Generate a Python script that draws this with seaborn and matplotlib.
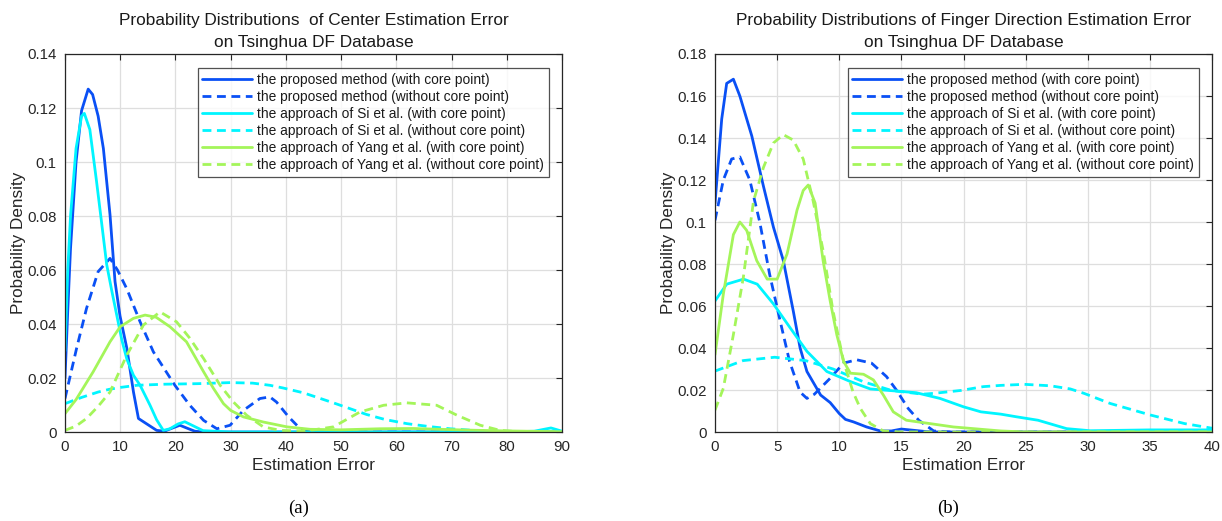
import matplotlib
matplotlib.use("Agg")
import matplotlib.pyplot as plt
import seaborn as sns
import pandas as pd
from matplotlib.ticker import FuncFormatter, MultipleLocator

# ---------------- data: panel (a) center estimation error ----------------
a_prop_core_x = [0, 0.5, 1, 2, 3, 4.2, 5, 6, 6.95, 8.15, 9.06, 9.96, 11.2, 12.4, 13.3, 14.8, 16.6, 18, 19.5, 20.8, 22, 23.5, 25, 90]
a_prop_core_y = [0.020, 0.045, 0.068, 0.100, 0.119, 0.127, 0.125, 0.117, 0.105, 0.0805, 0.0557, 0.043, 0.031, 0.0148, 0.005, 0.003, 0.0006, 0.0003, 0.0015, 0.0025, 0.0015, 0.0003, 0, 0]

a_prop_nocore_x = [0, 2.1, 3.9, 6.0, 8.15, 9.5, 11.2, 13.6, 16, 19.9, 22.6, 25.1, 27.5, 29.9, 32.3, 35.3, 37.1, 38.3, 40.5, 42.6, 45, 90]
a_prop_nocore_y = [0.0124, 0.031, 0.0458, 0.0594, 0.0643, 0.060, 0.053, 0.0408, 0.0297, 0.0173, 0.0099, 0.0043, 0.0012, 0.0025, 0.008, 0.0124, 0.013, 0.0111, 0.0056, 0.0012, 0, 0]

a_si_core_x = [0, 0.5, 1, 2, 3, 3.5, 4.5, 5.7, 6.6, 7.55, 8.5, 9.4, 10.3, 11.2, 12.4, 13.6, 15.4, 16.6, 17.8, 19, 20.5, 21.7, 23, 25, 30, 40, 60, 80, 85, 88, 90]
a_si_core_y = [0.030, 0.060, 0.080, 0.105, 0.117, 0.118, 0.112, 0.093, 0.078, 0.062, 0.052, 0.043, 0.034, 0.027, 0.021, 0.0173, 0.0099, 0.0045, 0.0006, 0.0012, 0.003, 0.0038, 0.0025, 0.0005, 0, 0, 0, 0, 0.0003, 0.0015, 0.0003]

a_si_nocore_x = [0, 3, 6, 8, 10, 13, 18, 24, 30, 34, 37.1, 39.5, 43.2, 48.6, 54.6, 58, 61.9, 66, 69.7, 74, 78.8, 85, 90]
a_si_nocore_y = [0.0105, 0.0128, 0.0148, 0.0158, 0.0165, 0.0173, 0.0177, 0.0179, 0.0183, 0.0181, 0.0173, 0.0163, 0.0145, 0.0108, 0.0065, 0.0046, 0.0031, 0.002, 0.0012, 0.0006, 0.0003, 0.0001, 0]

a_yang_core_x = [0, 2, 5.1, 8.15, 10, 12.4, 14.5, 16.5, 19, 22, 25.1, 26.9, 28.7, 30, 32.3, 35.9, 40.2, 44.4, 50, 57, 63, 68, 73, 80, 90]
a_yang_core_y = [0.0068, 0.012, 0.0223, 0.0334, 0.039, 0.0421, 0.0433, 0.0425, 0.039, 0.0334, 0.0223, 0.0161, 0.0105, 0.008, 0.0056, 0.0037, 0.0019, 0.001, 0.0008, 0.0012, 0.0013, 0.001, 0.0007, 0.0004, 0.0001]

a_yang_nocore_x = [0, 2, 3.9, 6, 8.15, 11.2, 14.2, 17.2, 20.2, 22.5, 25.1, 28.1, 30.5, 32.9, 35.9, 39, 42.3, 45, 48.6, 53.4, 57.7, 61.9, 67.3, 71, 75.2, 78.8, 82, 90]
a_yang_nocore_y = [0.0006, 0.0022, 0.005, 0.0095, 0.0148, 0.0285, 0.0396, 0.0445, 0.0408, 0.035, 0.0272, 0.0173, 0.0111, 0.0062, 0.0019, 0.0006, 0.0004, 0.0008, 0.0019, 0.0074, 0.0099, 0.0108, 0.0099, 0.0062, 0.0025, 0.0006, 0.0001, 0]

# ---------------- data: panel (b) finger direction estimation error ----------------
b_prop_core_x = [0, 0.54, 0.94, 1.48, 2.0, 2.96, 3.9, 4.7, 5.5, 6.3, 6.85, 7.4, 8.5, 9.27, 10, 10.5, 11.15, 12.2, 13.3, 14.2, 15, 16, 17, 18, 40]
b_prop_core_y = [0.1088, 0.149, 0.166, 0.168, 0.160, 0.141, 0.117, 0.0976, 0.0816, 0.0576, 0.040, 0.0288, 0.0176, 0.014, 0.0088, 0.006, 0.0048, 0.0024, 0.0005, 0.0005, 0.0014, 0.0008, 0.0002, 0, 0]

b_prop_nocore_x = [0, 0.67, 1.34, 2.0, 2.8, 3.6, 4.4, 5.2, 6.0, 6.85, 7.4, 8.0, 9.27, 10.35, 11.4, 12.6, 13.8, 14.6, 15.55, 16.4, 17.6, 19, 40]
b_prop_nocore_y = [0.1008, 0.120, 0.130, 0.131, 0.120, 0.100, 0.075, 0.054, 0.0336, 0.019, 0.016, 0.018, 0.0256, 0.0328, 0.0344, 0.0328, 0.0264, 0.020, 0.0112, 0.0056, 0.0005, 0, 0]

b_si_core_x = [0, 0.94, 2.3, 3.4, 4.7, 6.05, 7.4, 9.0, 10.9, 12.5, 14.6, 16.2, 18.1, 20, 21.4, 23, 24.3, 26, 28.3, 30.2, 35, 40]
b_si_core_y = [0.0624, 0.0704, 0.0728, 0.0704, 0.061, 0.0496, 0.0384, 0.0288, 0.024, 0.0205, 0.0195, 0.0187, 0.016, 0.012, 0.0096, 0.0085, 0.0072, 0.0056, 0.0016, 0.0006, 0.001, 0.001]

b_si_nocore_x = [0, 2.26, 4.8, 7.3, 9.5, 12, 14.2, 16.7, 17.6, 19.8, 21.6, 23, 24.9, 27, 28.6, 29.7, 31.8, 35.1, 37.8, 40]
b_si_nocore_y = [0.029, 0.034, 0.0356, 0.034, 0.030, 0.0238, 0.0198, 0.018, 0.0184, 0.0198, 0.0216, 0.0222, 0.0227, 0.022, 0.0205, 0.0184, 0.0136, 0.008, 0.004, 0.0018]

b_yang_core_x = [0, 0.67, 1.48, 2.0, 2.55, 3.36, 4.2, 5.0, 5.8, 6.6, 7.1, 7.5, 8.06, 8.7, 9.27, 9.8, 10.35, 10.9, 11.95, 12.75, 13.55, 14.35, 15.4, 17.3, 19.2, 21.2, 23, 25, 40]
b_yang_core_y = [0.0368, 0.0656, 0.094, 0.100, 0.096, 0.0816, 0.0728, 0.0728, 0.0848, 0.1056, 0.115, 0.1176, 0.109, 0.0816, 0.0624, 0.0464, 0.0336, 0.028, 0.0275, 0.0248, 0.0176, 0.0096, 0.0056, 0.004, 0.0024, 0.0014, 0.0005, 0, 0]

b_yang_nocore_x = [0, 0.67, 1.48, 2.28, 3.1, 3.9, 4.7, 5.5, 6.3, 7.1, 7.9, 8.7, 9.5, 10.35, 11.1, 11.7, 12.5, 13.55, 15, 40]
b_yang_nocore_y = [0.0104, 0.0208, 0.0464, 0.0736, 0.110, 0.126, 0.1376, 0.1416, 0.139, 0.130, 0.110, 0.0864, 0.0576, 0.0336, 0.0192, 0.0112, 0.004, 0.0005, 0, 0]

labels = [
    "the proposed method (with core point)",
    "the proposed method (without core point)",
    "the approach of Si et al. (with core point)",
    "the approach of Si et al. (without core point)",
    "the approach of Yang et al. (with core point)",
    "the approach of Yang et al. (without core point)",
]
titles = [
    "Probability Distributions  of Center Estimation Error\non Tsinghua DF Database",
    "Probability Distributions of Finger Direction Estimation Error\non Tsinghua DF Database",
]
captions = ["(a)", "(b)"]
x_limits = [(0, 90), (0, 40)]
y_limits = [(0, 0.14), (0, 0.18)]
x_steps = [10, 5]
y_steps = [0.02, 0.02]

panel_a = [(a_prop_core_x, a_prop_core_y), (a_prop_nocore_x, a_prop_nocore_y),
           (a_si_core_x, a_si_core_y), (a_si_nocore_x, a_si_nocore_y),
           (a_yang_core_x, a_yang_core_y), (a_yang_nocore_x, a_yang_nocore_y)]
panel_b = [(b_prop_core_x, b_prop_core_y), (b_prop_nocore_x, b_prop_nocore_y),
           (b_si_core_x, b_si_core_y), (b_si_nocore_x, b_si_nocore_y),
           (b_yang_core_x, b_yang_core_y), (b_yang_nocore_x, b_yang_nocore_y)]

colors = ["#0A50F5", "#0A50F5", "#00F5FF", "#00F5FF", "#A4F55A", "#A4F55A"]
dashed = [False, True, False, True, False, True]

sns.set_theme(style="white")
plt.rcParams["font.family"] = ["Liberation Sans", "DejaVu Sans"]

fig = plt.figure(figsize=(12.22, 5.21), dpi=100)
ax_pos = [[65 / 1222, 89 / 521, 497 / 1222, 378 / 521],
          [715 / 1222, 89 / 521, 497 / 1222, 378 / 521]]
cap_x = [299 / 1222, 948 / 1222]

for i, series in enumerate([panel_a, panel_b]):
    ax = fig.add_axes(ax_pos[i])
    for j, (xs, ys) in enumerate(series):
        df = pd.DataFrame({"x": xs, "y": ys})
        ls = (0, (3.2, 2.0)) if dashed[j] else "-"
        sns.lineplot(data=df, x="x", y="y", ax=ax, color=colors[j], linestyle=ls,
                     linewidth=2.0, label=labels[j], sort=False, estimator=None)
    ax.set_xlim(*x_limits[i])
    ax.set_ylim(*y_limits[i])
    ax.xaxis.set_major_locator(MultipleLocator(x_steps[i]))
    ax.yaxis.set_major_locator(MultipleLocator(y_steps[i]))
    ax.yaxis.set_major_formatter(FuncFormatter(lambda v, p: "%g" % round(v, 4)))
    ax.xaxis.set_major_formatter(FuncFormatter(lambda v, p: "%g" % v))
    ax.grid(True, color="#dedede", linewidth=0.9)
    ax.set_axisbelow(True)
    for s in ax.spines.values():
        s.set_color("#262626")
        s.set_linewidth(0.9)
    ax.tick_params(direction="in", length=4, width=0.8, color="#262626",
                   top=True, right=True, labelsize=10.8, labelcolor="#262626", pad=6)
    ax.set_xlabel("Estimation Error", fontsize=12.3, color="#262626", labelpad=3)
    ax.set_ylabel("Probability Density", fontsize=12.3, color="#262626", labelpad=1)
    ax.set_title(titles[i], fontsize=12.4, color="#1a1a1a", pad=5, linespacing=1.6)
    leg = ax.legend(loc="upper right", bbox_to_anchor=(0.974, 0.962), fontsize=9.9,
                    frameon=True, fancybox=False, handlelength=3.6, handletextpad=0.4,
                    labelspacing=0.22, borderpad=0.35, borderaxespad=0)
    leg.get_frame().set_edgecolor("#262626")
    leg.get_frame().set_linewidth(0.9)
    for t in leg.get_texts():
        t.set_color("#1a1a1a")
    fig.text(cap_x[i], 13 / 521, captions[i], ha="center", va="center",
             fontsize=13.5, family="Liberation Serif", color="black")

fig.savefig("out.png", dpi=100)
